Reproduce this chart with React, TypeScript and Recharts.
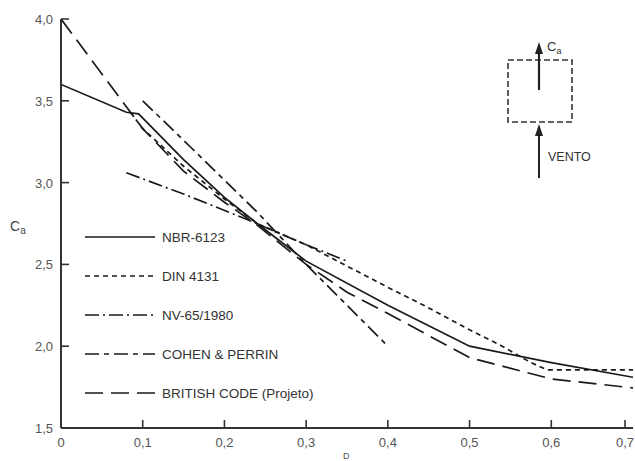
import React from 'react';
import { LineChart, Line, XAxis, YAxis, Legend } from 'recharts';

const xTicks = [0, 0.1, 0.2, 0.3, 0.4, 0.5, 0.6, 0.7];
const yTicks = [1.5, 2.0, 2.5, 3.0, 3.5, 4.0];

const nbrX = [0, 0.08, 0.095, 0.15, 0.2, 0.24, 0.3, 0.4, 0.5, 0.6, 0.7];
const nbrY = [3.6, 3.43, 3.42, 3.14, 2.91, 2.75, 2.52, 2.25, 2.0, 1.9, 1.81];

const dinX = [0.085, 0.1, 0.15, 0.2, 0.24, 0.3, 0.4, 0.44, 0.5, 0.54, 0.575, 0.595, 0.7];
const dinY = [3.43, 3.33, 3.1, 2.9, 2.75, 2.62, 2.36, 2.26, 2.1, 2.0, 1.9, 1.855, 1.855];

const nvX = [0.08, 0.15, 0.23, 0.3, 0.35];
const nvY = [3.06, 2.93, 2.77, 2.62, 2.52];

const cohenX = [0.1, 0.16, 0.24, 0.3, 0.4];
const cohenY = [3.5, 3.21, 2.82, 2.5, 2.0];

const britishX = [0, 0.085, 0.1, 0.15, 0.2, 0.24, 0.3, 0.35, 0.4, 0.5, 0.6, 0.7];
const britishY = [4.0, 3.43, 3.33, 3.07, 2.88, 2.74, 2.5, 2.33, 2.2, 1.93, 1.8, 1.745];

const seriesNames = ['NBR-6123', 'DIN 4131', 'NV-65/1980', 'COHEN & PERRIN', 'BRITISH CODE (Projeto)'];

const zip = (xs: number[], ys: number[]) => xs.map((x, i) => ({ x, y: ys[i] }));

const series = [
  { name: seriesNames[0], data: zip(nbrX, nbrY), dash: undefined as string | undefined },
  { name: seriesNames[1], data: zip(dinX, dinY), dash: '5 4' },
  { name: seriesNames[2], data: zip(nvX, nvY), dash: '14 4 2 4' },
  { name: seriesNames[3], data: zip(cohenX, cohenY), dash: '14 5 5 5' },
  { name: seriesNames[4], data: zip(britishX, britishY), dash: '18 8' },
];

const fmt = (v: number) => (v === 0 ? '0' : v.toFixed(1).replace('.', ','));
const FONT = '"Liberation Sans", Arial, sans-serif';
const AX = '#333';
const LINE = '#1a1a1a';
const TL = 8;

const BottomTick = (p: any) => (
  <g>
    <line x1={p.x} x2={p.x} y1={p.y} y2={p.y - TL} stroke={AX} strokeWidth={1.6} />
    <text x={p.x} y={p.y + 19} textAnchor="middle" fontFamily={FONT} fontSize={13} fill="#555">
      {fmt(p.payload.value)}
    </text>
  </g>
);
const LeftTick = (p: any) => (
  <g>
    <line x1={p.x} x2={p.x + TL} y1={p.y} y2={p.y} stroke={AX} strokeWidth={1.6} />
    <text x={p.x - 8} y={p.y + 5} textAnchor="end" fontFamily={FONT} fontSize={13} fill="#555">
      {fmt(p.payload.value)}
    </text>
  </g>
);
const TopTick = (p: any) => (
  <line x1={p.x} x2={p.x} y1={p.y} y2={p.y + TL} stroke={AX} strokeWidth={1.6} />
);
const RightTick = (p: any) => (
  <line x1={p.x - TL} x2={p.x} y1={p.y} y2={p.y} stroke={AX} strokeWidth={1.6} />
);

const LegendBox = () => (
  <svg width={260} height={200} style={{ overflow: 'visible', display: 'block' }}>
    {series.map((s, i) => (
      <g key={s.name}>
        <line x1={0} x2={70} y1={10 + i * 39} y2={10 + i * 39} stroke={LINE} strokeWidth={1.6} strokeDasharray={s.dash} />
        <text x={77} y={15 + i * 39} fontFamily={FONT} fontSize={13.5} fill="#333">{s.name}</text>
      </g>
    ))}
  </svg>
);

export default function App() {
  return (
    <div style={{ position: 'absolute', left: 0, top: 0, width: 635, height: 461, background: '#fff' }}>
      <LineChart width={635} height={461} margin={{ top: 19, right: 2, left: 0, bottom: 0 }}>
        <XAxis
          xAxisId="b"
          type="number"
          dataKey="x"
          domain={[0, 0.7]}
          ticks={xTicks}
          height={33}
          tickSize={0}
          tickMargin={0}
          allowDataOverflow
          axisLine={{ stroke: AX, strokeWidth: 2 }}
          tickLine={false}
          tick={BottomTick}
        />
        <XAxis
          xAxisId="t"
          orientation="top"
          type="number"
          dataKey="x"
          domain={[0, 0.7]}
          ticks={xTicks}
          height={0}
          tickSize={0}
          tickMargin={0}
          allowDataOverflow
          axisLine={{ stroke: AX, strokeWidth: 2 }}
          tickLine={false}
          tick={TopTick}
        />
        <YAxis
          yAxisId="l"
          type="number"
          domain={[1.5, 4]}
          ticks={yTicks}
          width={61}
          tickSize={0}
          tickMargin={0}
          allowDataOverflow
          axisLine={{ stroke: AX, strokeWidth: 2 }}
          tickLine={false}
          tick={LeftTick}
        />
        <YAxis
          yAxisId="r"
          orientation="right"
          type="number"
          domain={[1.5, 4]}
          ticks={yTicks}
          width={0}
          tickSize={0}
          tickMargin={0}
          allowDataOverflow
          axisLine={{ stroke: AX, strokeWidth: 2 }}
          tickLine={false}
          tick={RightTick}
        />
        {series.map((s) => (
          <Line
            key={s.name}
            xAxisId="b"
            yAxisId="l"
            data={s.data}
            dataKey="y"
            name={s.name}
            type="linear"
            stroke={LINE}
            strokeWidth={1.7}
            strokeDasharray={s.dash}
            dot={false}
            activeDot={false}
            isAnimationActive={false}
          />
        ))}
        <Legend
          layout="horizontal"
          verticalAlign="middle"
          align="center"
          content={() => <LegendBox />}
          wrapperStyle={{ position: 'absolute', left: 85, top: 227, width: 260, height: 200 }}
        />
      </LineChart>
      <svg width={635} height={461} style={{ position: 'absolute', left: 0, top: 0, pointerEvents: 'none' }}>
        <text x={10} y={231} fontFamily={FONT} fontSize={14} fill="#444">
          C<tspan fontSize={10} dy={3}>a</tspan>
        </text>
        <text x={343} y={459} fontFamily={FONT} fontSize={9} fill="#555">D</text>
        <rect x={508} y={60} width={64} height={62} fill="none" stroke="#333" strokeWidth={1.6} strokeDasharray="6 3" />
        <line x1={539} y1={90} x2={539} y2={52} stroke="#222" strokeWidth={2.2} />
        <polygon points="539,42 535,54 543,54" fill="#222" />
        <text x={547} y={51} fontFamily={FONT} fontSize={13} fill="#333">
          C<tspan fontSize={9} dy={3}>a</tspan>
        </text>
        <line x1={539} y1={178} x2={539} y2={134} stroke="#222" strokeWidth={2} />
        <polygon points="539,124 535,136 543,136" fill="#222" />
        <text x={548} y={161} fontFamily={FONT} fontSize={12.5} fill="#333">VENTO</text>
      </svg>
    </div>
  );
}
